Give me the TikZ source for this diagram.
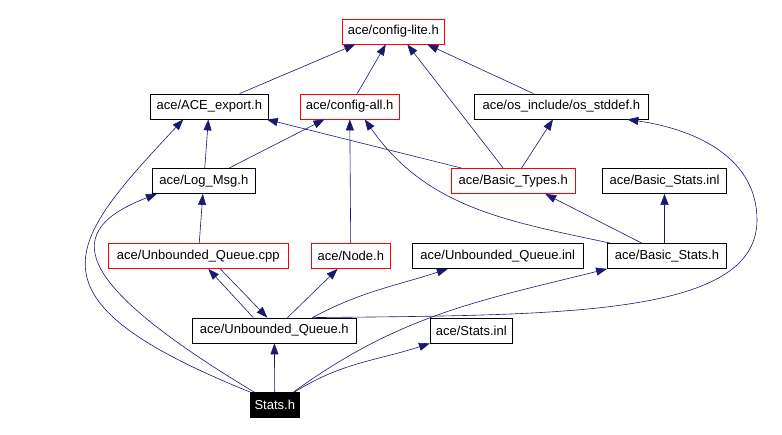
\documentclass[tikz,border=0pt]{standalone}
\usepackage{fontspec}
\newfontfamily\graphfont{Liberation Sans}
\usepackage{tikz}
\usetikzlibrary{arrows.meta}
\definecolor{edgeblue}{HTML}{191970}
\tikzset{link/.style={draw=edgeblue, line width=0.6pt}}
\tikzset{every edge/.style={link}}
\tikzset{>={Triangle[length=11pt,width=8pt]}}
\tikzset{hfile/.style={draw, line width=0.8pt, inner xsep=4pt, inner ysep=0pt,
    minimum height=25pt, font=\graphfont\fontsize{13}{15}\selectfont}}
\tikzset{hfilered/.style={hfile, draw=red}}
\tikzset{hfileroot/.style={hfile, fill=black, text=white}}

\begin{document}
\begin{tikzpicture}[x=1pt, y=1pt]
  \useasboundingbox (0, 0) rectangle (782, 435);

  \node[hfilered, minimum width=102pt] at (393.3, 403.5) (cl) {ace/config-lite.h};

  \node[hfile, minimum width=118pt] at (209.3, 328.5) (ae) {ace/ACE\_export.h};
  \node[hfilered, minimum width=99pt] at (349.7, 328.5) (ca) {ace/config-all.h};
  \node[hfile, minimum width=174pt] at (561.3, 328.5) (os) {ace/os\_include/os\_stddef.h};

  \node[hfile, minimum width=103pt] at (203.8, 254) (lm) {ace/Log\_Msg.h};
  \node[hfilered, minimum width=124pt] at (513.2, 254) (bt) {ace/Basic\_Types.h};
  \node[hfile, minimum width=124pt] at (664.5, 254) (bsi) {ace/Basic\_Stats.inl};

  \node[hfilered, minimum width=180pt] at (198.3, 179) (uqc) {ace/Unbounded\_Queue.cpp};
  \node[hfilered, minimum width=79pt] at (350.8, 179) (nd) {ace/Node.h};
  \node[hfile, minimum width=171pt] at (497.8, 179) (uqi) {ace/Unbounded\_Queue.inl};
  \node[hfile, minimum width=119pt] at (667, 179) (bs) {ace/Basic\_Stats.h};

  \node[hfile, minimum width=164pt] at (274.3, 104.5) (uq) {ace/Unbounded\_Queue.h};
  \node[hfile, minimum width=82pt] at (471.3, 104.5) (si) {ace/Stats.inl};

  \node[hfileroot, minimum width=47pt] at (274.8, 30) (st) {Stats.h};

  % includes of the second row
  \draw (ae) edge[->] ([xshift=-38pt]cl.south);
  \draw (ca) edge[->] (cl);
  \draw (os) edge[->] ([xshift=34pt]cl.south);

  % includes of the third row
  \draw (lm) edge[->] (ae);
  \draw (lm) edge[->] (ca);
  \draw (bt) edge[->] ([xshift=14pt]cl.south);
  \draw (bt) edge[->] ([xshift=-2pt]ae.south east);
  \draw (bt) edge[->] (os);

  % includes of the fourth row
  \draw (uqc) edge[->] (lm);
  \draw (nd) edge[->] (ca);
  \draw (bs) edge[->] ([xshift=32pt]bt.south);
  \draw (bs.north -| bsi) edge[->] (bsi);
  \draw ([xshift=3pt]bs.north west) edge[->, out=168, in=-55] ([xshift=15pt]ca.south);

  % includes of the queue header
  \draw ([xshift=-21pt]uq.north) edge[->] ([xshift=10pt]uqc.south);
  \draw ([xshift=22pt]uqc.south) edge[->] ([xshift=-7pt]uq.north);
  \draw (uq) edge[->] (nd);
  \draw ([xshift=38pt]uq.north) edge[->, out=28, in=-162] ([xshift=-50pt]uqi.south);
  \draw[link, ->] ([xshift=38pt]uq.north) .. controls (560, 120) and (757, 118) .. (757, 215)
    .. controls (757, 275) and (700, 305) .. ([xshift=66pt]os.south);

  % includes of Stats.h
  \draw (st) edge[->] (uq);
  \draw ([xshift=-5pt]st.north east) edge[->, out=32, in=-162] (si.south west);
  \draw ([xshift=-6pt]st.north east) edge[->, out=36, in=-166] (bs.south west);
  \draw (st.north west) edge[->, out=158, in=-133, out distance=250pt, in distance=170pt] ([xshift=-26pt]ae.south);
  \draw ([xshift=4pt]st.north west) edge[->, out=149, in=-159, out distance=220pt, in distance=100pt] ([xshift=5pt]lm.south west);
\end{tikzpicture}
\end{document}
